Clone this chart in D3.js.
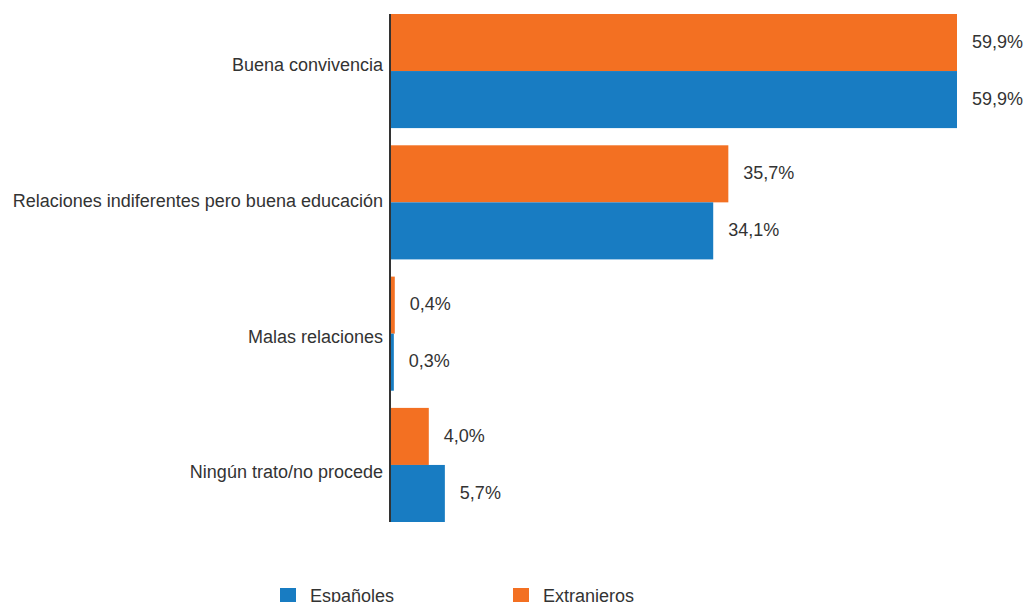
<!DOCTYPE html>
<html><head><meta charset="utf-8">
<script src="https://cdn.jsdelivr.net/npm/d3@7"></script>
<style>body{margin:0;background:#fff}svg{display:block}</style>
</head><body>
<svg id="c" width="1028" height="602"></svg>
<script>
const categories = ["Buena convivencia","Relaciones indiferentes pero buena educación","Malas relaciones","Ningún trato/no procede"];
const series = ["Extranjeros","Españoles"];
const extranjeros = [59.9, 35.7, 0.4, 4.0];
const espanoles = [59.9, 34.1, 0.3, 5.7];
const legendOrder = ["Españoles","Extranjeros"];
const colors = {"Españoles":"#187cc2","Extranjeros":"#f37022"};

const svg = d3.select("#c");
const font = "'Liberation Sans', Arial, Helvetica, sans-serif";
const x = d3.scaleLinear().domain([0, 59.9]).range([391, 957]);
const y = d3.scaleBand().domain(categories).range([14, 522]).paddingInner(0.131).paddingOuter(0);
const ys = d3.scaleBand().domain(series).range([0, y.bandwidth()]);
const yLabel = d3.scalePoint().domain(categories).range([65, 472]);
const data = categories.map((c,i)=>({c, vals:[{s:"Extranjeros",v:extranjeros[i]},{s:"Españoles",v:espanoles[i]}]}));

const g = svg.append("g");
const grp = g.selectAll("g.grp").data(data).join("g").attr("transform", d=>`translate(0,${y(d.c)})`);
grp.selectAll("rect").data(d=>d.vals).join("rect")
  .attr("x", x(0)).attr("y", d=>ys(d.s)).attr("width", d=>x(d.v)-x(0)).attr("height", ys.bandwidth())
  .attr("fill", d=>colors[d.s]);
grp.selectAll("text").data(d=>d.vals).join("text")
  .attr("x", d=>x(d.v)+15).attr("y", d=>ys(d.s)+ys.bandwidth()/2 - 1).attr("dy","0.35em")
  .attr("font-family", font).attr("font-size", 18).attr("fill", "#333")
  .text(d=>d.v.toFixed(1).replace(".", ",")+"%");

const yAxis = d3.axisLeft(yLabel).tickSize(0).tickPadding(7);
const ax = svg.append("g").attr("transform", "translate(390,0)").call(yAxis);
ax.select(".domain").remove();
ax.selectAll("text").attr("font-family", font).attr("font-size", 18).attr("fill", "#333");
svg.append("line").attr("x1",390).attr("x2",390).attr("y1",14).attr("y2",522).attr("stroke","#333").attr("stroke-width",2);

const lx = d3.scalePoint().domain(legendOrder).range([280, 513]);
const lg = svg.selectAll("g.lg").data(legendOrder).join("g").attr("transform", d=>`translate(${lx(d)},588)`);
lg.append("rect").attr("width",16).attr("height",16).attr("fill", d=>colors[d]);
lg.append("text").attr("x",30).attr("y",14).attr("font-family", font).attr("font-size", 18).attr("fill","#333").text(d=>d);
</script>
</body></html>
